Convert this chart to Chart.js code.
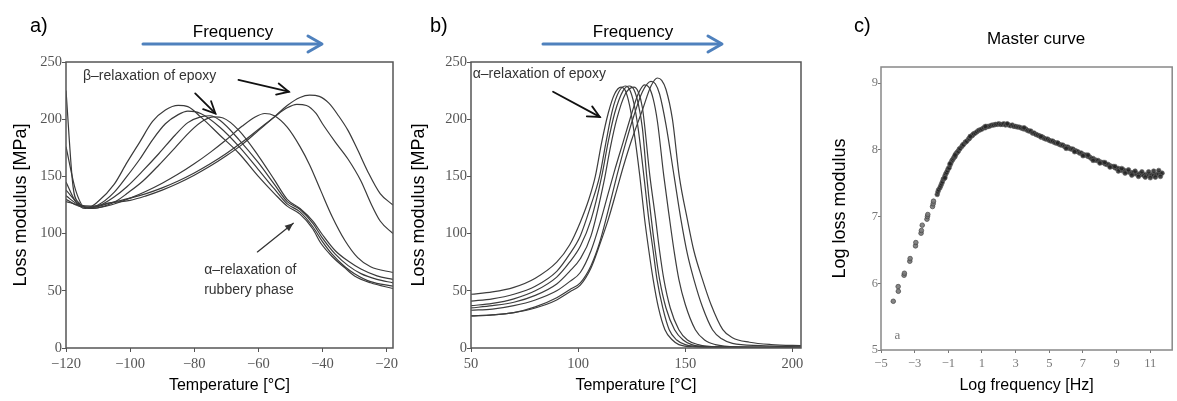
<!DOCTYPE html>
<html><head><meta charset="utf-8">
<script src="https://cdn.jsdelivr.net/npm/chart.js@4.4.0/dist/chart.umd.min.js"></script>
<style>
html,body{margin:0;padding:0;background:#fff;width:1177px;height:401px;overflow:hidden;}
.wrap{position:absolute;top:0;height:401px;}
canvas{display:block;}
.lbl{position:absolute;font-family:"Liberation Sans",Arial,sans-serif;color:#000;white-space:nowrap;line-height:1;}
</style></head><body>
<svg style="position:absolute;left:0;top:0" width="1177" height="401">
<g stroke="#4F81BD" stroke-width="3" fill="none" stroke-linecap="round" stroke-linejoin="round">
<line x1="143" y1="44" x2="321" y2="44"/><polyline points="308,36 322,44 308,52"/>
<line x1="543" y1="44" x2="721" y2="44"/><polyline points="708,36 722,44 708,52"/>
</g></svg>
<div class="wrap" style="left:0;width:400px"><canvas id="ca" width="400" height="401"></canvas></div>
<div class="wrap" style="left:400px;width:405px"><canvas id="cb" width="405" height="401"></canvas></div>
<div class="wrap" style="left:805px;width:372px"><canvas id="cc" width="372" height="401"></canvas></div>
<div class="lbl" style="left:30px;top:15px;font-size:20px">a)</div>
<div class="lbl" style="left:430px;top:15px;font-size:20px">b)</div>
<div class="lbl" style="left:854px;top:15px;font-size:20px">c)</div>
<div class="lbl" style="left:133px;width:200px;text-align:center;top:23px;font-size:17px">Frequency</div>
<div class="lbl" style="left:533px;width:200px;text-align:center;top:23px;font-size:17px">Frequency</div>
<div class="lbl" style="left:936px;width:200px;text-align:center;top:30px;font-size:17px">Master curve</div>
<script>
// ---------- Panel a: loss modulus vs temperature (beta relaxation) ----------
const aXTicks = [-120, -100, -80, -60, -40, -20];
const aYTicks = [0, 50, 100, 150, 200, 250];
const aCurve1 = [[-120,225],[-117.8,141],[-116,127],[-113,123],[-110,128],[-105,143],[-101,162],[-97,180],[-93,198],[-89,208],[-85,212],[-82,211],[-78,202],[-72,186],[-66,170],[-60,150],[-55,135],[-51,124],[-47,117],[-43,104],[-40.6,92],[-37,80],[-33,70],[-30,63],[-25,57],[-18,52]];
const aCurve2 = [[-120,176],[-117,138],[-114,123],[-110,125],[-105,136],[-101,150],[-97,165],[-93,182],[-89,196],[-85,204],[-82,207],[-78,205],[-72,193],[-66,176],[-60,156],[-55,139],[-51,126],[-47,119],[-43,106],[-40,93],[-37,82],[-33,71],[-30,65],[-25,58],[-18,54]];
const aCurve3 = [[-120,145],[-117,128],[-114,122],[-110,124],[-105,132],[-101,141],[-96,155],[-91,170],[-86,186],[-82,197],[-78,202],[-75,203],[-72,199],[-66,182],[-60,162],[-55,143],[-51,128],[-47,121],[-43,109],[-40,96],[-36,82],[-32,72],[-28,65],[-23,60],[-18,57]];
const aCurve4 = [[-120,138],[-116,126],[-112,122],[-108,124],[-104,129],[-101,135],[-96,146],[-91,160],[-86,175],[-81,190],[-77,199],[-74,202],[-71,201],[-66,190],[-60,168],[-55,147],[-51,130],[-47,122],[-43,111],[-40,99],[-36,85],[-32,76],[-28,69],[-23,63],[-18,60]];
const aCurve5 = [[-120,133],[-116,125],[-112,122],[-106,125],[-100,131],[-95,137],[-90,144],[-85,152],[-80,161],[-75,171],[-70,182],[-65,194],[-61,202],[-58,205],[-55,203],[-51,193],[-47,176],[-44,160],[-40.6,138],[-37,115],[-33,94],[-29,79],[-25,71],[-18,66]];
const aCurve6 = [[-120,130],[-116,124],[-112,123],[-106,127],[-100,131],[-95,135],[-90,140],[-85,146],[-80,153],[-75,161],[-70,170],[-65,180],[-60,191],[-55,202],[-51,210],[-48,213],[-45,212],[-42,205],[-40,196],[-36,180],[-32,165],[-28,146],[-25,127],[-22,111],[-18,100]];
const aCurve7 = [[-120,128],[-116,125],[-112,124],[-106,127],[-100,129],[-95,133],[-90,138],[-85,144],[-80,151],[-75,159],[-70,168],[-65,178],[-60,190],[-55,202],[-51,212],[-47,219],[-44,221],[-41,220],[-38,214],[-35,203],[-32,190],[-29,173],[-26,155],[-22,135],[-18,125]];

// ---------- Panel b: loss modulus vs temperature (alpha relaxation) ----------
const bXTicks = [50, 100, 150, 200];
const bYTicks = [0, 50, 100, 150, 200, 250];
const bCurve1 = [[50,47],[60,49],[70,53],[80,61],[90,75],[96,90],[101,110],[105,130],[108,150],[111,180],[114,205],[117,222],[120,228],[122,225],[124,212],[126,190],[128.8,150],[131,113],[133,85],[135,60],[137.5,35],[140.5,16],[144,7],[147,3],[155,1],[170,0.5],[205,0.5]];
const bCurve2 = [[50,41],[60,43],[70,47],[80,54],[90,67],[96,82],[101,98],[106,125],[110,150],[113,180],[116,208],[119,224],[122,229],[124,226],[126,214],[128,192],[130.7,150],[133,112],[135,85],[136.8,60],[139.5,35],[142.5,16],[146,7],[150,3],[160,1],[205,0.5]];
const bCurve3 = [[50,37],[60,39],[70,43],[80,50],[90,62],[96,75],[101,89],[106,112],[111,150],[114,180],[117,205],[121,225],[124,229],[126,226],[128,214],[130,192],[132,150],[134,115],[136,85],[138,60],[141,35],[145,16],[149,7],[153,3],[162,1],[205,0.5]];
const bCurve4 = [[50,35],[60,37],[70,40],[80,46],[90,56],[96,67],[101,78],[106,98],[112,145],[115,175],[118,200],[122,222],[126,228],[128,224],[130,210],[133.5,150],[136,115],[138,85],[140,60],[143,35],[147,16],[151,7],[156,3],[165,1],[205,0.5]];
const bCurve5 = [[50,33],[60,34],[70,37],[80,42],[90,50],[96,58],[101,66],[106,85],[110,108],[114,135],[117,155],[121,180],[125,205],[128,222],[131,230],[133,228],[135,218],[137,198],[140,150],[142.5,115],[145,82],[147,60],[150,38],[154.7,16],[159,7],[164,3],[175,1],[205,0.5]];
const bCurve6 = [[50,28],[60,29],[70,31],[80,36],[90,44],[96,51],[101,57],[106,72],[110,92],[114,120],[118,150],[122,178],[126,203],[130,224],[134,233],[136,231],[138,222],[141,195],[144.8,150],[148,112],[151,82],[154,60],[158,36],[162.7,16],[167,8],[172,4],[185,2],[205,1]];
const bCurve7 = [[50,28],[60,29],[70,31],[80,35],[90,42],[96,49],[101,55],[106,70],[110,90],[114,112],[118,138],[121,158],[125,182],[130,208],[134,229],[137,236],[139,234],[141,226],[144,200],[147.2,150],[151,112],[154,85],[158,60],[162,38],[167.5,16],[172,9],[180,5],[190,3],[205,2]];

// ---------- Panel c: master curve ----------
const cXTicks = [-5, -3, -1, 1, 3, 5, 7, 9, 11];
const cYTicks = [5, 6, 7, 8, 9];
const masterLowPoints = [[-4.27,5.73],[-3.98,5.95],[-3.97,5.88],[-3.63,6.12],[-3.61,6.15],[-3.29,6.33],[-3.27,6.37],[-2.95,6.56],[-2.93,6.61],[-2.62,6.75],[-2.6,6.79],[-2.55,6.87],[-2.27,6.96],[-2.24,7.0],[-2.22,7.03],[-1.94,7.15],[-1.9,7.19],[-1.88,7.23]];
const masterPoints = [[-1.66,7.33],[-1.62,7.37],[-1.58,7.4],[-1.5,7.43],[-1.45,7.46],[-1.4,7.49],[-1.35,7.52],[-1.3,7.56],[-1.25,7.57],[-1.2,7.61],[-1.15,7.64],[-1.1,7.66],[-1.05,7.69],[-1.0,7.72],[-0.95,7.73],[-0.9,7.77],[-0.85,7.8],[-0.8,7.83],[-0.75,7.85],[-0.7,7.87],[-0.65,7.89],[-0.6,7.9],[-0.55,7.94],[-0.5,7.95],[-0.45,7.97],[-0.4,7.98],[-0.35,8.01],[-0.3,8.02],[-0.2,8.05],[-0.15,8.07],[-0.1,8.08],[0.0,8.11],[0.05,8.12],[0.1,8.13],[0.2,8.16],[0.25,8.17],[0.3,8.19],[0.4,8.21],[0.45,8.22],[0.5,8.24],[0.6,8.25],[0.7,8.27],[0.8,8.29],[0.9,8.3],[1.0,8.31],[1.1,8.33],[1.2,8.33],[1.3,8.35],[1.4,8.35],[1.5,8.36],[1.6,8.37],[1.7,8.37],[1.8,8.38],[1.9,8.38],[2.0,8.39],[2.1,8.38],[2.2,8.38],[2.3,8.39],[2.4,8.37],[2.5,8.38],[2.6,8.37],[2.7,8.36],[2.8,8.37],[2.9,8.35],[3.0,8.35],[3.1,8.34],[3.2,8.34],[3.3,8.33],[3.4,8.32],[3.5,8.31],[3.6,8.31],[3.7,8.29],[3.8,8.28],[3.9,8.28],[4.0,8.25],[4.1,8.25],[4.2,8.23],[4.3,8.22],[4.4,8.21],[4.5,8.19],[4.6,8.19],[4.7,8.17],[4.8,8.16],[4.9,8.16],[5.0,8.14],[5.1,8.13],[5.2,8.13],[5.3,8.11],[5.4,8.1],[5.5,8.1],[5.6,8.08],[5.7,8.07],[5.8,8.07],[5.9,8.05],[6.0,8.04],[6.1,8.04],[6.2,8.02],[6.3,8.01],[6.4,8.01],[6.5,7.99],[6.6,7.98],[6.7,7.97],[6.8,7.95],[6.9,7.95],[7.0,7.93],[7.1,7.92],[7.2,7.92],[7.3,7.9],[7.4,7.89],[7.5,7.87],[7.6,7.87],[7.7,7.85],[7.8,7.84],[7.9,7.84],[8.0,7.82],[8.1,7.81],[8.2,7.81],[8.3,7.79],[8.4,7.78],[8.5,7.78],[8.6,7.76],[8.7,7.75],[8.8,7.75],[8.9,7.73],[9.0,7.72],[9.1,7.72],[9.2,7.7],[9.3,7.69],[9.4,7.7],[9.5,7.68],[9.6,7.67],[9.7,7.67],[9.8,7.66],[9.9,7.65],[10.0,7.66],[10.1,7.64],[10.2,7.64],[10.3,7.63],[10.4,7.64],[10.5,7.63],[10.6,7.62],[10.7,7.63],[10.8,7.62],[10.9,7.62],[11.0,7.63],[11.1,7.62],[11.2,7.62],[11.3,7.63],[11.4,7.63],[11.5,7.64],[11.6,7.64],[11.7,7.65],
[-1.2,7.58],[-0.9,7.79],[-0.6,7.92],[0.3,8.2],[1.2,8.35],[2.5,8.39],[3.5,8.33],[4.5,8.2],[5.5,8.1],[6.0,8.02],[6.5,7.97],[7.0,7.91],[7.3,7.92],[7.6,7.84],[8.0,7.8],[8.3,7.81],[8.6,7.74],[8.9,7.75],[9.1,7.68],[9.3,7.72],[9.5,7.65],[9.7,7.7],[9.9,7.62],[10.1,7.68],[10.3,7.6],[10.5,7.67],[10.7,7.59],[10.9,7.67],[11.0,7.58],[11.2,7.68],[11.3,7.59],[11.5,7.69],[11.6,7.6]];

// ---------- helpers ----------
const toXY = arr => arr.map(p => ({x: p[0], y: p[1]}));
const minusFmt = v => (v < 0 ? '\u2212' + Math.abs(v) : String(v));
const SANS = '"Liberation Sans", Arial, sans-serif';
const SERIF = '"Liberation Serif", "Times New Roman", serif';

function drawArrow(ctx, x1, y1, x2, y2, o) {
  const ang = Math.atan2(y2 - y1, x2 - x1);
  ctx.strokeStyle = o.color; ctx.lineWidth = o.width; ctx.lineCap = 'round'; ctx.lineJoin = 'miter';
  ctx.beginPath(); ctx.moveTo(x1, y1); ctx.lineTo(x2, y2); ctx.stroke();
  const L = o.head, w = o.spread;
  const p1x = x2 - L * Math.cos(ang - w), p1y = y2 - L * Math.sin(ang - w);
  const p2x = x2 - L * Math.cos(ang + w), p2y = y2 - L * Math.sin(ang + w);
  ctx.beginPath(); ctx.moveTo(p1x, p1y); ctx.lineTo(x2, y2); ctx.lineTo(p2x, p2y);
  if (o.filled) { ctx.closePath(); ctx.fillStyle = o.color; ctx.fill(); } else { ctx.stroke(); }
}

function annotPlugin(cfg) {
  return { id: 'annot', afterDatasetsDraw(chart) {
    const ctx = chart.ctx, a = chart.chartArea, xs = chart.scales.x, ys = chart.scales.y;
    ctx.save();
    ctx.strokeStyle = cfg.boxColor; ctx.lineWidth = cfg.boxWidth;
    ctx.strokeRect(a.left, a.top, a.right - a.left, a.bottom - a.top);
    (cfg.texts || []).forEach(t => {
      ctx.font = t.font; ctx.fillStyle = t.color; ctx.textAlign = 'left'; ctx.textBaseline = 'middle';
      ctx.fillText(t.text, xs.getPixelForValue(t.x), ys.getPixelForValue(t.y));
    });
    (cfg.arrows || []).forEach(ar => drawArrow(ctx, xs.getPixelForValue(ar.x1), ys.getPixelForValue(ar.y1), xs.getPixelForValue(ar.x2), ys.getPixelForValue(ar.y2), ar));
    ctx.restore();
  }};
}

function axis(o) {
  return {
    type: 'linear', min: o.min, max: o.max,
    afterFit(s) {
      if (o.width) s.width = o.width;
      if (o.height) s.height = o.height;
      s.paddingLeft = 0; s.paddingRight = 0; s.paddingTop = 0; s.paddingBottom = 0;
    },
    afterBuildTicks(s) { s.ticks = o.ticks.map(v => ({value: v})); },
    ticks: { font: {family: SERIF, size: o.tickSize}, color: o.tickColor, padding: o.tickPad, maxRotation: 0, autoSkip: false, callback: minusFmt },
    grid: { drawOnChartArea: false, drawTicks: true, tickLength: o.tickLen, color: o.tickColor, lineWidth: 1 },
    border: { display: false },
    title: { display: true, text: o.title, font: {family: SANS, size: o.titleSize}, color: '#000', padding: o.titlePad }
  };
}

function lineSets(curves, color, width) {
  return curves.map(c => ({ data: toXY(c), borderColor: color, borderWidth: width, pointRadius: 0, fill: false, cubicInterpolationMode: 'monotone' }));
}

const common = { responsive: false, animation: false, events: [], plugins: { legend: {display: false}, tooltip: {enabled: false} } };

// Panel a
new Chart(document.getElementById('ca'), {
  type: 'line',
  data: { datasets: lineSets([aCurve1, aCurve2, aCurve3, aCurve4, aCurve5, aCurve6, aCurve7], '#3a3a3a', 1.2) },
  options: Object.assign({}, common, {
    layout: { padding: {left: 0, top: 62, right: 7, bottom: 0} },
    scales: {
      x: axis({min: -120, max: -18, ticks: aXTicks, height: 53, tickSize: 14.5, tickColor: '#555', tickPad: 3, tickLen: 4, title: 'Temperature [°C]', titleSize: 16, titlePad: {top: 0, bottom: 6}}),
      y: axis({min: 0, max: 250, ticks: aYTicks, width: 66, tickSize: 14.5, tickColor: '#555', tickPad: 0, tickLen: 4, title: 'Loss modulus [MPa]', titleSize: 18, titlePad: {top: 10, bottom: 0}})
    }
  }),
  plugins: [annotPlugin({
    boxColor: '#555', boxWidth: 1.5,
    texts: [
      {text: 'β–relaxation of epoxy', x: -114.7, y: 238, font: '14px ' + SANS, color: '#333'},
      {text: 'α–relaxation of', x: -76.9, y: 68, font: '14px ' + SANS, color: '#333'},
      {text: 'rubbery phase', x: -76.9, y: 50.5, font: '14px ' + SANS, color: '#333'}
    ],
    arrows: [
      {x1: -79.7, y1: 222.6, x2: -73.4, y2: 205, color: '#111', width: 1.8, head: 13, spread: 0.45, filled: false},
      {x1: -66.2, y1: 234.3, x2: -50.5, y2: 224, color: '#111', width: 1.8, head: 13, spread: 0.45, filled: false},
      {x1: -60.3, y1: 84, x2: -49.1, y2: 109, color: '#333', width: 1.3, head: 9, spread: 0.4, filled: true}
    ]
  })]
});

// Panel b
new Chart(document.getElementById('cb'), {
  type: 'line',
  data: { datasets: lineSets([bCurve1, bCurve2, bCurve3, bCurve4, bCurve5, bCurve6, bCurve7], '#3d3d3d', 1.2) },
  options: Object.assign({}, common, {
    layout: { padding: {left: 0, top: 62, right: 4, bottom: 0} },
    scales: {
      x: axis({min: 50, max: 204, ticks: bXTicks, height: 53, tickSize: 14.5, tickColor: '#555', tickPad: 3, tickLen: 4, title: 'Temperature [°C]', titleSize: 16, titlePad: {top: 0, bottom: 6}}),
      y: axis({min: 0, max: 250, ticks: bYTicks, width: 71, tickSize: 14.5, tickColor: '#555', tickPad: 0, tickLen: 4, title: 'Loss modulus [MPa]', titleSize: 18, titlePad: {top: 8, bottom: 0}})
    }
  }),
  plugins: [annotPlugin({
    boxColor: '#555', boxWidth: 1.5,
    texts: [ {text: 'α–relaxation of epoxy', x: 50.8, y: 239, font: '14px ' + SANS, color: '#333'} ],
    arrows: [ {x1: 88.3, y1: 224, x2: 110.1, y2: 202, color: '#111', width: 1.8, head: 13, spread: 0.45, filled: false} ]
  })]
});

// Panel c
new Chart(document.getElementById('cc'), {
  type: 'scatter',
  data: { datasets: [
    { data: toXY(masterLowPoints), pointRadius: 2.3, pointBackgroundColor: 'rgba(120,120,120,0.9)', pointBorderColor: 'rgba(70,70,70,0.9)', pointBorderWidth: 0.8 },
    { data: toXY(masterPoints), pointRadius: 2.3, pointBackgroundColor: 'rgba(35,35,35,0.85)', pointBorderColor: 'rgba(100,100,100,0.8)', pointBorderWidth: 0.8 }
  ] },
  options: Object.assign({}, common, {
    layout: { padding: {left: 0, top: 67, right: 2, bottom: 0} },
    scales: {
      x: axis({min: -5, max: 12.3, ticks: cXTicks, height: 51, tickSize: 12.5, tickColor: '#777', tickPad: 3, tickLen: 3, title: 'Log frequency [Hz]', titleSize: 16, titlePad: {top: 0, bottom: 6}}),
      y: axis({min: 5, max: 9.24, ticks: cYTicks, width: 76, tickSize: 12.5, tickColor: '#777', tickPad: 0, tickLen: 3, title: 'Log loss modulus', titleSize: 18, titlePad: {top: 24, bottom: 0}})
    }
  }),
  plugins: [annotPlugin({
    boxColor: '#888', boxWidth: 1.5,
    texts: [ {text: 'a', x: -4.2, y: 5.22, font: '13px ' + SERIF, color: '#777'} ]
  })]
});
</script>
</body></html>
